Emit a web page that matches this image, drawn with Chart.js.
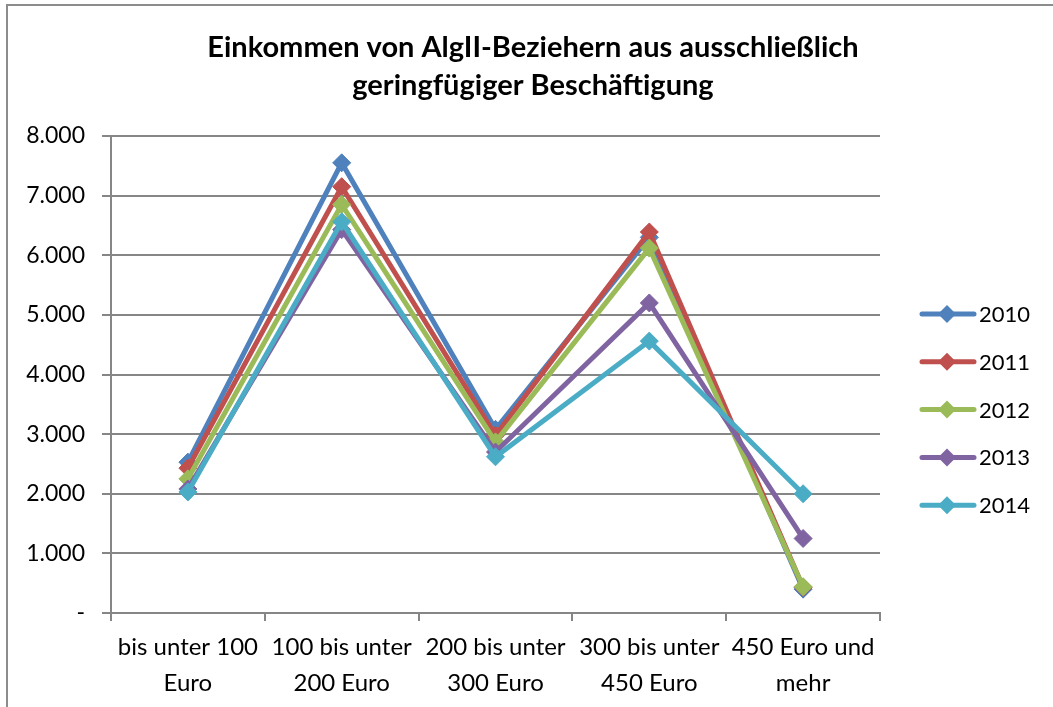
<!DOCTYPE html>
<html>
<head>
<meta charset="utf-8">
<script src="https://cdn.jsdelivr.net/npm/chart.js@4.4.0/dist/chart.umd.min.js"></script>
<style>
  html, body { margin: 0; padding: 0; background: #fff; }
  canvas { display: block; }
</style>
</head>
<body>
<canvas id="chart" width="1053" height="707"></canvas>
<script>
// categories and series
const categories = [
  ['bis unter 100', 'Euro'],
  ['100 bis unter', '200 Euro'],
  ['200 bis unter', '300 Euro'],
  ['300 bis unter', '450 Euro'],
  ['450 Euro und', 'mehr']
];
const years = ['2010', '2011', '2012', '2013', '2014'];
const values2010 = [2530, 7550, 3080, 6300, 400];
const values2011 = [2430, 7150, 2980, 6390, 430];
const values2012 = [2250, 6850, 2870, 6120, 440];
const values2013 = [2080, 6430, 2700, 5200, 1250];
const values2014 = [2030, 6560, 2620, 4560, 2000];
const colors = ['#4F81BD', '#C0504D', '#9BBB59', '#8064A2', '#4BACC6'];
const titleLines = ['Einkommen von AlgII-Beziehern aus ausschließlich', 'geringfügiger Beschäftigung'];

const font = 'Lato, "Open Sans", sans-serif';
const gridColor = '#868686';

const allValues = [values2010, values2011, values2012, values2013, values2014];

const datasets = years.map((y, i) => ({
  label: y,
  data: allValues[i],
  borderColor: colors[i],
  backgroundColor: colors[i],
  borderWidth: 5,
  pointStyle: 'rectRot',
  pointRadius: 9,
  pointBorderWidth: 1,
  tension: 0,
  order: years.length - i
}));

// frame, title and legend like the spreadsheet export
const extras = {
  id: 'extras',
  beforeDraw(chart) {
    const ctx = chart.ctx;
    ctx.save();
    ctx.fillStyle = '#fff';
    ctx.fillRect(0, 0, chart.width, chart.height);
    ctx.strokeStyle = '#8c8c8c';
    ctx.lineWidth = 2;
    ctx.beginPath();
    ctx.moveTo(7, chart.height);
    ctx.lineTo(7, 5);
    ctx.lineTo(chart.width, 5);
    ctx.stroke();

    // title centred on the whole picture
    ctx.fillStyle = '#000';
    ctx.font = 'bold 29px ' + font;
    ctx.textAlign = 'center';
    ctx.textBaseline = 'middle';
    titleLines.forEach((t, i) => ctx.fillText(t, 533, 48 + i * 38));
    ctx.restore();
  },
  afterDraw(chart) {
    const ctx = chart.ctx;
    ctx.save();
    chart.data.datasets.forEach((ds, i) => {
      const y = 314 + i * 47.8;
      ctx.strokeStyle = ds.borderColor;
      ctx.lineWidth = 5;
      ctx.lineCap = 'round';
      ctx.beginPath();
      ctx.moveTo(922, y);
      ctx.lineTo(974, y);
      ctx.stroke();
      ctx.fillStyle = ds.borderColor;
      ctx.beginPath();
      ctx.moveTo(947, y - 9);
      ctx.lineTo(956, y);
      ctx.lineTo(947, y + 9);
      ctx.lineTo(938, y);
      ctx.closePath();
      ctx.fill();
      ctx.fillStyle = '#000';
      ctx.font = '22px ' + font;
      ctx.textBaseline = 'middle';
      ctx.textAlign = 'left';
      ctx.fillText(ds.label, 979, y + 1);
    });
    ctx.restore();
  }
};

new Chart(document.getElementById('chart'), {
  type: 'line',
  data: { labels: categories, datasets },
  plugins: [extras],
  options: {
    responsive: false,
    animation: false,
    layout: { padding: { left: 0, right: 173, top: 136, bottom: 0 } },
    plugins: {
      legend: { display: false },
      tooltip: { enabled: false },
      title: { display: false }
    },
    scales: {
      x: {
        offset: true,
        grid: { display: true, drawOnChartArea: false, offset: true, color: gridColor, lineWidth: 2, tickLength: 8 },
        border: { color: gridColor, width: 2 },
        ticks: { color: '#000', font: { family: font, size: 24, lineHeight: 1.5 }, padding: 8, maxRotation: 0, autoSkip: false },
        afterFit(scale) { scale.height = 94; }
      },
      y: {
        min: 0,
        max: 8000,
        grid: { color: gridColor, lineWidth: 2, tickLength: 9 },
        border: { color: gridColor, width: 2 },
        ticks: {
          stepSize: 1000,
          color: '#000',
          font: { family: font, size: 23 },
          padding: 17,
          callback: v => v === 0 ? '-' : (v / 1000) + '.000'
        },
        afterFit(scale) { scale.width = 111; }
      }
    }
  }
});
</script>
</body>
</html>
